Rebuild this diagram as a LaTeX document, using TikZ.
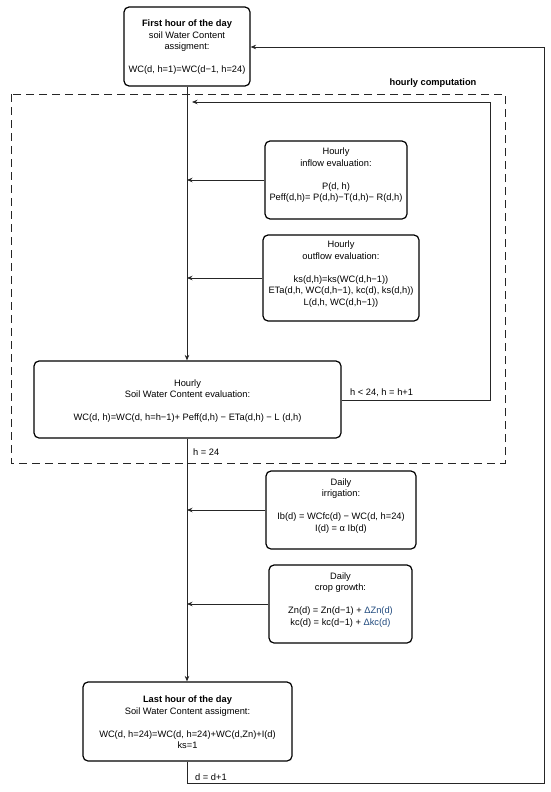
\documentclass[tikz,border=0pt]{standalone}
\usepackage{fontspec}
\setmainfont{Liberation Sans}
\usetikzlibrary{arrows.meta}
\definecolor{deltablue}{RGB}{31,73,125}
\tikzset{
  box/.style={draw=black, line width=1.2pt, rounded corners=5pt, inner sep=0pt},
  txt/.style={align=center, font=\fontsize{9.3}{11.5}\selectfont, inner sep=0pt},
  lbl/.style={font=\fontsize{9.3}{10}\selectfont, inner sep=0pt, anchor=west},
  conn/.style={draw=black!85, line width=0.8pt},
  arr/.style={conn, -{Stealth[length=5.5pt,width=4.5pt]}},
  dashbox/.style={draw=black!85, line width=0.9pt, dash pattern=on 8pt off 5pt}
}
\begin{document}
\begin{tikzpicture}[x=1pt,y=-1pt]
\useasboundingbox (0,0) rectangle (550,792);
% dashed region
\draw[dashbox] (11,94) rectangle (505,463);
\node[txt, font=\fontsize{9.3}{10}\selectfont\bfseries] (hc) at (433,83) {hourly computation};
% boxes
\node[box, minimum width=126pt, minimum height=79pt] (top) at (187,46.5) {};
\node[txt] (toptext) at (187,47.5) {\textbf{First hour of the day}\\soil Water Content\\assigment:\\[11.5pt]WC(d, h=1)=WC(d−1, h=24)};
\node[box, minimum width=142pt, minimum height=78pt] (inflow) at (336,180) {};
\node[txt] (inflowtext) at (336,175.5) {Hourly\\inflow evaluation:\\[11.5pt]P(d, h)\\Peff(d,h)= P(d,h)−T(d,h)− R(d,h)};
\node[box, minimum width=156pt, minimum height=86pt] (outflow) at (341,278) {};
\node[txt] (outflowtext) at (341,274) {Hourly\\outflow evaluation:\\[11.5pt]ks(d,h)=ks(WC(d,h−1))\\ETa(d,h, WC(d,h−1), kc(d), ks(d,h))\\L(d,h, WC(d,h−1))};
\node[box, minimum width=307pt, minimum height=77pt] (swc) at (187.5,399.5) {};
\node[txt] (swctext) at (187.5,401) {Hourly\\Soil Water Content evaluation:\\[11.5pt]WC(d, h)=WC(d, h=h−1)+ Peff(d,h) − ETa(d,h) − L (d,h)};
\node[box, minimum width=150pt, minimum height=78pt] (irr) at (341,510) {};
\node[txt] (irrtext) at (341,506) {Daily\\irrigation:\\[11.5pt]Ib(d) = WCfc(d) − WC(d, h=24)\\I(d) = α Ib(d)};
\node[box, minimum width=143pt, minimum height=78pt] (crop) at (340.5,604) {};
\node[txt] (croptext) at (340.5,600) {Daily\\crop growth:\\[11.5pt]Zn(d) = Zn(d−1) + \textcolor{deltablue}{ΔZn(d)}\\kc(d) = kc(d−1) + \textcolor{deltablue}{Δkc(d)}};
\node[box, minimum width=209pt, minimum height=79pt] (last) at (187.5,721.5) {};
\node[txt] (lasttext) at (187.5,722.5) {\textbf{Last hour of the day}\\Soil Water Content assigment:\\[11.5pt]WC(d, h=24)=WC(d, h=24)+WC(d,Zn)+I(d)\\ks=1};
% coordinates
\coordinate (m1) at (187,102);
\coordinate (m2) at (187,180);
\coordinate (m3) at (187,278);
\coordinate (m4) at (187,510);
\coordinate (m5) at (187,604);
\coordinate (loopR) at (490,400);
\coordinate (loopT) at (490,102);
\coordinate (bot) at (187,783);
\coordinate (outR) at (544,783);
\coordinate (outT) at (544,47);
% main line
\draw[arr] (top.south -| m1) -- (swc.north -| m1);
\draw[arr] (swc.south -| m1) -- (last.north -| m1);
% side arrows
\draw[arr] (inflow.west) -- (m2);
\draw[arr] (outflow.west |- m3) -- (m3);
\draw[arr] (irr.west) -- (m4);
\draw[arr] (crop.west) -- (m5);
% loop
\draw[arr] (swc.east |- loopR) -- (loopR) -- (loopT) -- ([xshift=5pt]m1);
\node[lbl] (lh) at (350,393) {h < 24, h = h+1};
\node[lbl] (l24) at (193,452) {h = 24};
% day loop
\draw[arr] (last.south -| bot) -- (bot) -- (outR) -- (outT) -- (top.east |- outT);
\node[lbl] (ld) at (195,777.5) {d = d+1};
\end{tikzpicture}
\end{document}
